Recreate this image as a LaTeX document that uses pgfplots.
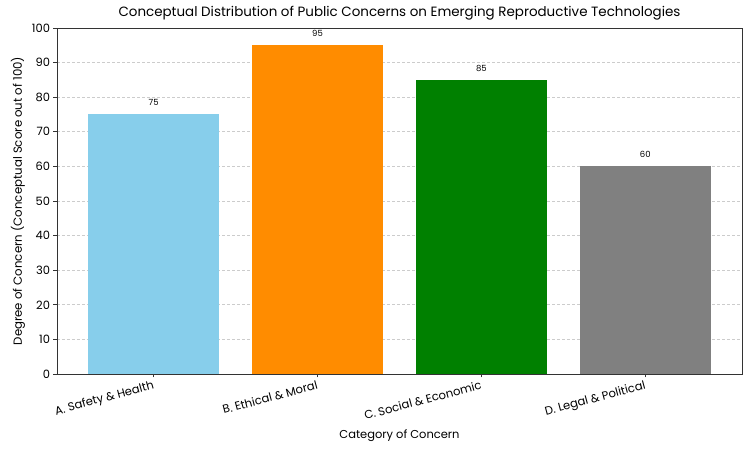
\documentclass[border=0pt]{standalone}
\usepackage{pgfplots}
\pgfplotsset{compat=1.18}
\usepackage{fontspec}
\setmainfont{Poppins}
\definecolor{skyblue}{HTML}{87CEEB}
\definecolor{darkorange}{HTML}{FF8C00}
\definecolor{mplgreen}{HTML}{008000}
\definecolor{mplgray}{HTML}{808080}

\begin{document}
\begin{tikzpicture}[x=1bp,y=1bp]
\path[use as bounding box] (-57,-78) rectangle (696,374);
\begin{axis}[
    scale only axis,
    width=685bp, height=346bp,
    xmin=-0.59, xmax=3.59, ymin=0, ymax=100,
    ybar, bar width=0.8, bar shift=0pt,
    xtick={0,1,2,3},
    xticklabels={A. Safety \& Health, B. Ethical \& Moral, C. Social \& Economic, D. Legal \& Political},
    ytick={0,10,...,100},
    xtick pos=bottom, ytick pos=left,
    ymajorgrids,
    grid style={dash pattern=on 3bp off 2bp, black!20, line width=0.6bp},
    tick align=outside, major tick length=3.5bp,
    tick style={black!80, line width=0.6bp},
    axis line style={black!80, line width=0.6bp},
    /pgf/number format/assume math mode=true,
    yticklabel style={font=\fontsize{11.5}{13}\selectfont},
    xticklabel style={rotate=15, anchor=north east, font=\fontsize{11.6}{13}\selectfont, inner sep=2bp},
    xlabel={Category of Concern},
    ylabel={Degree of Concern (Conceptual Score out of 100)},
    xlabel style={font=\fontsize{11.5}{13}\selectfont, at={(0.5,0)}, anchor=north, yshift=-52bp},
    ylabel style={font=\fontsize{11.8}{13}\selectfont},
    title={Conceptual Distribution of Public Concerns on Emerging Reproductive Technologies},
    title style={font=\fontsize{13.5}{16}\selectfont, at={(0.5,1)}, anchor=base, yshift=6bp},
    nodes near coords,
    nodes near coords style={font=\fontsize{8.5}{10}\selectfont, yshift=5bp},
]
\addplot[fill=skyblue, draw=none] coordinates {(0,75)};
\addplot[fill=darkorange, draw=none] coordinates {(1,95)};
\addplot[fill=mplgreen, draw=none] coordinates {(2,85)};
\addplot[fill=mplgray, draw=none] coordinates {(3,60)};
\end{axis}
\end{tikzpicture}
\end{document}
